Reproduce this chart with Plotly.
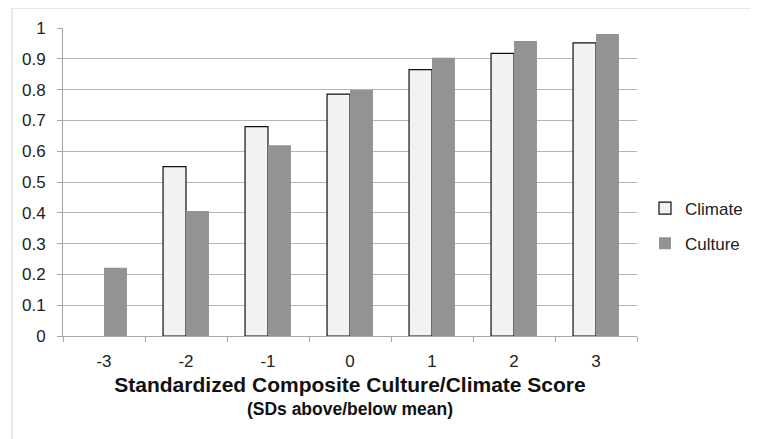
import plotly.graph_objects as go

categories = ["-3", "-2", "-1", "0", "1", "2", "3"]
climate = [None, 0.55, 0.68, 0.786, 0.865, 0.918, 0.952]
culture = [0.222, 0.406, 0.62, 0.799, 0.904, 0.958, 0.981]
y_ticks = [0, 0.1, 0.2, 0.3, 0.4, 0.5, 0.6, 0.7, 0.8, 0.9, 1]
y_tick_labels = ["0", "0.1", "0.2", "0.3", "0.4", "0.5", "0.6", "0.7", "0.8", "0.9", "1"]

FONT = "Liberation Sans, Arial, sans-serif"

fig = go.Figure()
fig.add_trace(go.Bar(
    name="Climate", x=categories, y=climate, legendgroup="a",
    marker=dict(color="#f2f2f2", line=dict(color="#111111", width=1.2)),
))
fig.add_trace(go.Bar(
    name="Culture", x=categories, y=culture, legendgroup="b",
    marker=dict(color="#939393", line=dict(width=0)),
))

# page body has an 8px margin, so the figure starts at (8, 8) in the window
OFF = 8
W, H = 758 - OFF, 439 - OFF
L, R, T, B = 63 - OFF, 758 - 637, 28 - OFF, 439 - 336
pw, ph = W - L - R, H - T - B

def px(x):
    return (x - OFF - L) / pw

def py(y):
    return (T + ph - (y - OFF)) / ph

fig.update_layout(
    width=W, height=H,
    margin=dict(l=L, r=R, t=T, b=B, autoexpand=False),
    paper_bgcolor="white", plot_bgcolor="white",
    barmode="group", bargap=0.44, bargroupgap=0,
    font=dict(family=FONT, color="#222222", size=17),
    legend=dict(
        x=px(645), y=py(226), xanchor="left", yanchor="middle",
        font=dict(size=17, color="#222222"),
        itemwidth=30, tracegroupgap=10, traceorder="grouped",
        bgcolor="rgba(0,0,0,0)",
    ),
    xaxis=dict(
        type="category", automargin=False,
        showline=True, linecolor="#a6a6a6", linewidth=1,
        ticks="outside", tickson="boundaries", ticklen=5, tickcolor="#a6a6a6",
        ticklabelstandoff=10,
        showgrid=False,
        tickfont=dict(size=17, color="#222222"),
        title=dict(
            text="<span style='font-size:21px'><b>Standardized Composite Culture/Climate Score</b></span><br>"
                 "<span style='font-size:17.5px'><b>(SDs above/below mean)</b></span>",
            font=dict(size=18, color="#111111"),
            standoff=8,
        ),
    ),
    yaxis=dict(
        range=[0, 1.0005], automargin=False,
        tickvals=y_ticks, ticktext=y_tick_labels,
        showline=True, linecolor="#a6a6a6", linewidth=1,
        ticks="outside", ticklen=5, tickcolor="#a6a6a6",
        ticklabelstandoff=8,
        showgrid=True, gridcolor="#b5b5b5", gridwidth=1,
        zeroline=False,
        tickfont=dict(size=17, color="#222222"),
    ),
    shapes=[dict(
        type="rect", xref="paper", yref="paper",
        x0=px(12), x1=px(800), y0=py(480), y1=py(8),
        line=dict(color="#d4d4d4", width=1), fillcolor="rgba(0,0,0,0)",
        layer="below",
    )],
)

fig.write_html("out.html")
